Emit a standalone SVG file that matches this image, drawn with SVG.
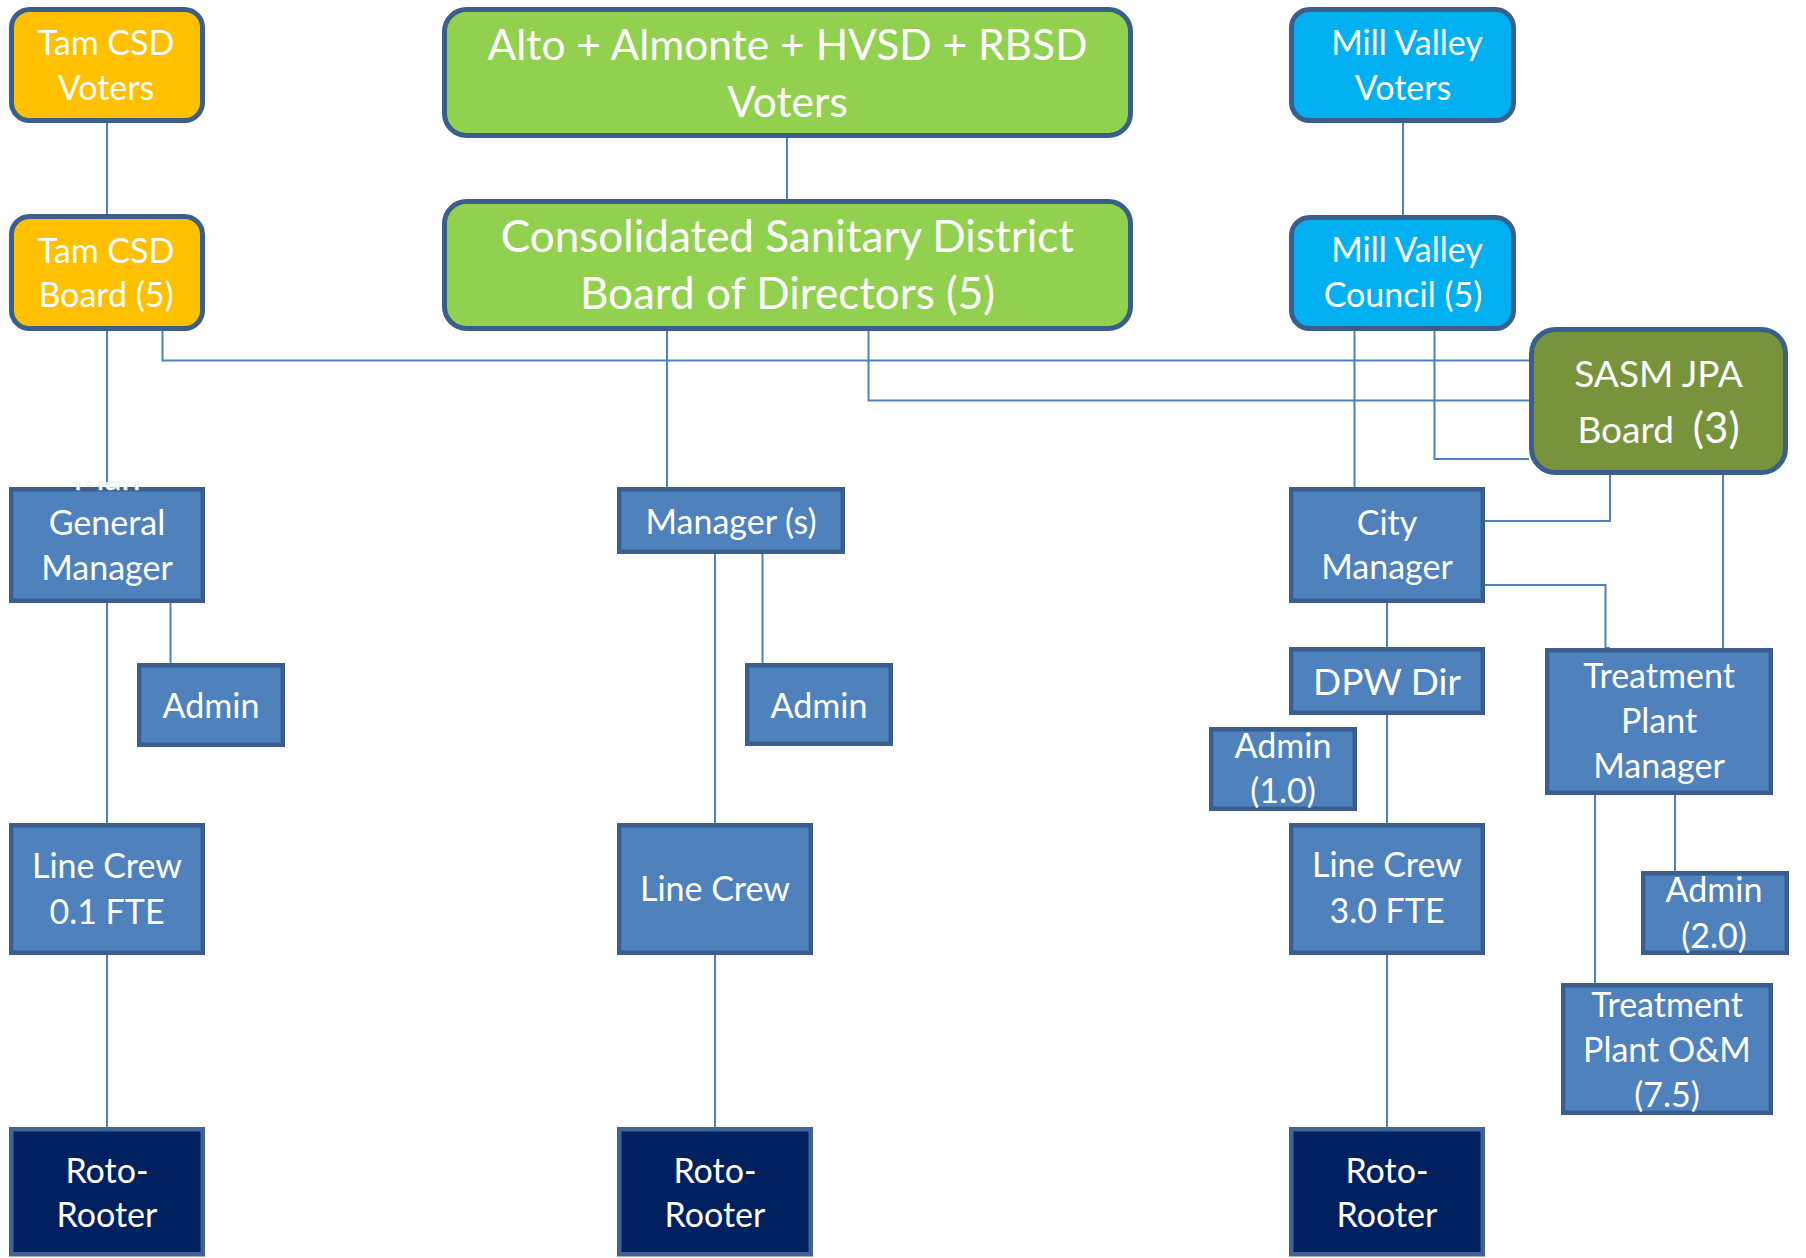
<svg xmlns="http://www.w3.org/2000/svg" width="1806" height="1258" viewBox="0 0 1806 1258">
<defs>
<style>
.conn{fill:none;stroke:#4F81BD;stroke-width:2}
.rb{stroke:#3A5F8C;stroke-width:5}
.bx{fill:#4F81BD;stroke:#3A5F8C;stroke-width:4.5}
.roto{fill:#002060;stroke:#3F6494;stroke-width:4.5}
.orange{fill:#FFC000}
.green{fill:#92D050}
.cyan{fill:#00B0F0}
.olive{fill:#77933C}
text{font-family:Lato,"Open Sans","Liberation Sans",sans-serif;fill:#FFFFFF;text-anchor:middle}
.s{font-size:34px}
.m{font-size:37px}
.l{font-size:42.5px}
.xl{font-size:44px}
</style>
<clipPath id="manClip"><rect x="0" y="481" width="240" height="12"/></clipPath>
</defs>
<rect width="1806" height="1258" fill="#FFFFFF"/>
<g id="connectors">
<path class="conn" d="M107 123V214"/>
<path class="conn" d="M787 138V199"/>
<path class="conn" d="M1403 123V215"/>
<path class="conn" d="M162.5 331V360.5H1529"/>
<path class="conn" d="M868.5 331V400.5H1529"/>
<path class="conn" d="M667 331V487"/>
<path class="conn" d="M1354.5 331V487"/>
<path class="conn" d="M1434.5 331V459H1529"/>
<path class="conn" d="M1610 475V521H1485"/>
<path class="conn" d="M1485 585H1605.5V648H1610"/>
<path class="conn" d="M1723 475V648"/>
<path class="conn" d="M107 331V487"/>
<path class="conn" d="M107 603V823"/>
<path class="conn" d="M170.5 603V663"/>
<path class="conn" d="M107 955V1127"/>
<path class="conn" d="M715 554V823"/>
<path class="conn" d="M762.5 554V663"/>
<path class="conn" d="M715 955V1127"/>
<path class="conn" d="M1387 603V647"/>
<path class="conn" d="M1387 715V823"/>
<path class="conn" d="M1387 955V1127"/>
<path class="conn" d="M1595 795V985"/>
<path class="conn" d="M1675 795V871"/>
</g>
<g id="tam-voters">
<rect class="rb orange" x="11.5" y="9.5" width="191" height="111" rx="18"/>
<text class="s" x="106" y="55">Tam CSD</text>
<text class="s" x="106" y="100">Voters</text>
</g>
<g id="tam-board">
<rect class="rb orange" x="11.5" y="216.5" width="191" height="112" rx="18"/>
<text class="s" x="106" y="263">Tam CSD</text>
<text class="s" x="106" y="307">Board (5)</text>
</g>
<g id="alto-voters">
<rect class="rb green" x="444.5" y="9.5" width="686" height="126" rx="22"/>
<text class="l" x="787.5" y="60">Alto + Almonte + HVSD + RBSD</text>
<text class="l" x="787.5" y="117">Voters</text>
</g>
<g id="csd-board">
<rect class="rb green" x="444.5" y="201.5" width="686" height="127" rx="22"/>
<text class="xl" x="787.5" y="252">Consolidated Sanitary District</text>
<text class="xl" x="787.5" y="309">Board of Directors (5)</text>
</g>
<g id="mv-voters">
<rect class="rb cyan" x="1291.5" y="9.5" width="222" height="111" rx="18"/>
<text class="s" x="1407" y="55">Mill Valley</text>
<text class="s" x="1403" y="100">Voters</text>
</g>
<g id="mv-council">
<rect class="rb cyan" x="1291.5" y="217.5" width="222" height="111" rx="18"/>
<text class="s" x="1407" y="262">Mill Valley</text>
<text class="s" x="1403" y="307">Council (5)</text>
</g>
<g id="sasm">
<rect class="rb olive" x="1531.5" y="329.5" width="254" height="143" rx="24"/>
<text class="m" x="1658.5" y="387">SASM JPA</text>
<text class="m" x="1658.5" y="443" xml:space="preserve">Board  <tspan font-size="42">(3)</tspan></text>
</g>
<g id="general-manager">
<rect class="bx" x="11.25" y="489.25" width="191.5" height="111.5"/>
<text class="s" x="107" y="490" clip-path="url(#manClip)" stroke="#D8E0EC" stroke-width="0.6">Man</text>
<text class="s" x="107" y="535">General</text>
<text class="s" x="107" y="580">Manager</text>
</g>
<g id="admin-tam">
<rect class="bx" x="139.25" y="665.25" width="143.5" height="79.5"/>
<text class="s" x="211" y="718">Admin</text>
</g>
<g id="linecrew-tam">
<rect class="bx" x="11.25" y="825.25" width="191.5" height="127.5"/>
<text class="s" x="107" y="878">Line Crew</text>
<text class="s" x="107" y="924">0.1 FTE</text>
</g>
<g id="roto-tam">
<rect class="roto" x="11.25" y="1129.25" width="191.5" height="125"/>
<text class="s" x="107" y="1183">Roto-</text>
<text class="s" x="107" y="1227">Rooter</text>
</g>
<g id="managers">
<rect class="bx" x="619.25" y="489.25" width="223.5" height="62.5"/>
<text class="s" x="731" y="534" font-size="36">Manager (s)</text>
</g>
<g id="admin-csd">
<rect class="bx" x="747.25" y="665.25" width="143.5" height="78.5"/>
<text class="s" x="819" y="718">Admin</text>
</g>
<g id="linecrew-csd">
<rect class="bx" x="619.25" y="825.25" width="191.5" height="127.5"/>
<text class="s" x="715" y="901">Line Crew</text>
</g>
<g id="roto-csd">
<rect class="roto" x="619.25" y="1129.25" width="191.5" height="125"/>
<text class="s" x="715" y="1183">Roto-</text>
<text class="s" x="715" y="1227">Rooter</text>
</g>
<g id="city-manager">
<rect class="bx" x="1291.25" y="489.25" width="191.5" height="111.5"/>
<text class="s" x="1387" y="535">City</text>
<text class="s" x="1387" y="579">Manager</text>
</g>
<g id="dpw-dir">
<rect class="bx" x="1291.25" y="649.25" width="191.5" height="63.5"/>
<text class="m" x="1387" y="695">DPW Dir</text>
</g>
<g id="admin-mv">
<rect class="bx" x="1211.25" y="729.25" width="143.5" height="79.5"/>
<text class="s" x="1283" y="758">Admin</text>
<text class="s" x="1283" y="803">(1.0)</text>
</g>
<g id="linecrew-mv">
<rect class="bx" x="1291.25" y="825.25" width="191.5" height="127.5"/>
<text class="s" x="1387" y="877">Line Crew</text>
<text class="s" x="1387" y="923">3.0 FTE</text>
</g>
<g id="roto-mv">
<rect class="roto" x="1291.25" y="1129.25" width="191.5" height="125"/>
<text class="s" x="1387" y="1183">Roto-</text>
<text class="s" x="1387" y="1227">Rooter</text>
</g>
<g id="tp-manager">
<rect class="bx" x="1547.25" y="650.25" width="223.5" height="142.5"/>
<text class="s" x="1659" y="688">Treatment</text>
<text class="s" x="1659" y="733">Plant</text>
<text class="s" x="1659" y="778">Manager</text>
</g>
<g id="admin-tp">
<rect class="bx" x="1643.25" y="873.25" width="143.5" height="79.5"/>
<text class="s" x="1714" y="902">Admin</text>
<text class="s" x="1714" y="948">(2.0)</text>
</g>
<g id="tp-om">
<rect class="bx" x="1563.25" y="985.25" width="207.5" height="127.5"/>
<text class="s" x="1667" y="1017">Treatment</text>
<text class="s" x="1667" y="1062">Plant O&amp;M</text>
<text class="s" x="1667" y="1107">(7.5)</text>
</g>
</svg>
